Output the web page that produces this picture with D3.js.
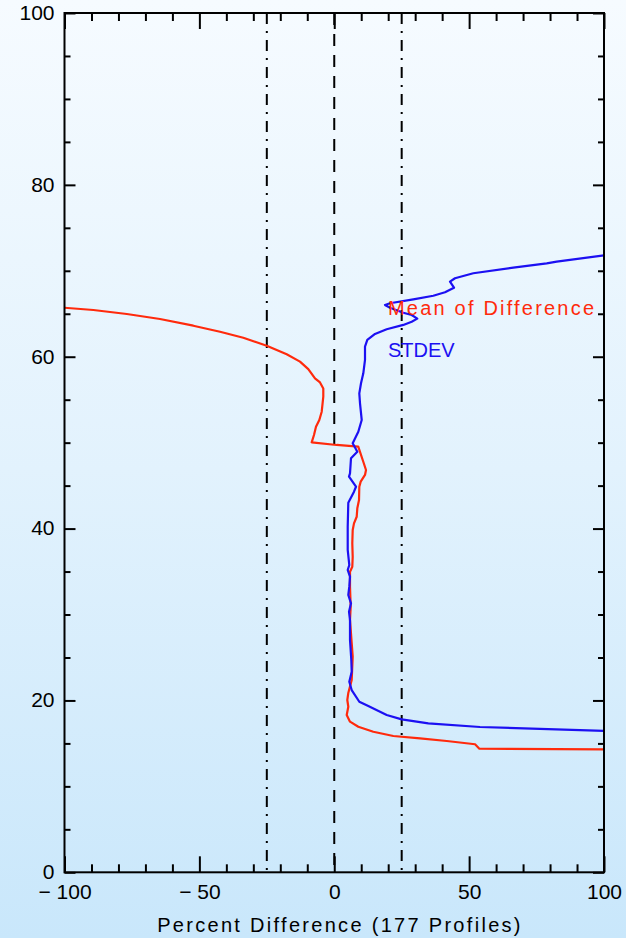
<!DOCTYPE html>
<html>
<head>
<meta charset="utf-8">
<script src="https://cdn.jsdelivr.net/npm/d3@7"></script>
<style>
  html, body { margin: 0; padding: 0; }
  body { width: 626px; height: 938px; overflow: hidden; }
  svg { display: block; font-family: "Liberation Sans", Arial, Helvetica, sans-serif; }
</style>
</head>
<body>
<svg id="chart" width="626" height="938"></svg>
<script>
// Percent difference profiles: [percent, altitude]
const meanOfDifference = [
  [-100, 65.7], [-89.3, 65.44], [-76.9, 64.97], [-64.6, 64.39], [-52.25, 63.61],
  [-42.35, 62.91], [-33.72, 62.21], [-25.04, 61.28], [-17.63, 60.28], [-12.7, 59.43],
  [-9.62, 58.56], [-7.14, 57.48], [-5.28, 57.01], [-4.06, 56.31], [-4.06, 55.35],
  [-4.65, 53.6], [-5.54, 52.64], [-6.77, 51.86], [-7.51, 50.89], [-8.36, 50.04],
  [0.91, 49.73], [8.9, 49.53], [10.77, 47.78],
  [11.77, 46.82], [11.4, 46.24], [9.8, 45.46], [9.29, 44.87], [9.18, 43.33],
  [8.55, 42.36], [8.32, 41.38], [7.32, 40.61], [6.84, 39.83], [6.69, 38.29],
  [6.84, 36.73], [6.69, 35.56], [5.84, 34.98], [5.84, 33.24], [6.1, 30.91],
  [5.84, 29.36], [6.47, 26.68], [6.84, 25.09], [6.47, 22.38], [5.21, 20.87],
  [4.84, 20.05], [5.21, 19.27], [4.62, 18.31], [5.84, 17.53], [8.92, 16.94],
  [14.48, 16.36], [21.9, 15.86], [31.8, 15.59], [41.7, 15.28], [52.2, 14.9],
  [53.8, 14.38], [100, 14.31]
];
const stdev = [
  [100, 71.8], [82.47, 71.06], [78.76, 70.87], [66.38, 70.36], [51.55, 69.71],
  [44.76, 69.13], [42.91, 68.73], [44.39, 68.03], [41.06, 67.5], [36.72, 67.1],
  [29.3, 66.68], [20.67, 66.22], [18.81, 66.02], [20.67, 65.71], [25.6, 65.12],
  [28.71, 64.86], [30.79, 64.43], [28.71, 64.08], [25.6, 63.7], [19.44, 63.19],
  [15.11, 62.65], [12.25, 61.95], [11.4, 61.17], [11.4, 59.62], [10.77, 58.07],
  [9.92, 56.91], [9.29, 55.74], [9.55, 54.58], [10.18, 52.64], [8.92, 51.27],
  [6.84, 49.92], [8.55, 48.95], [6.21, 48.18], [5.84, 46.43], [5.47, 46.04],
  [8.06, 44.87], [7.32, 44.29], [5.21, 43.01], [4.99, 40.22], [4.99, 37.51],
  [5.58, 35.76], [4.99, 35.18], [5.84, 34.4], [5.58, 33.24], [5.21, 32.27],
  [6.21, 31.3], [5.47, 30.33], [5.84, 29.36], [5.84, 27.03], [6.32, 24.71],
  [6.47, 23.34], [5.58, 22.18], [6.47, 21.21], [9.29, 19.85], [12.62, 19.35],
  [19.44, 18.31], [25.0, 17.8], [34.87, 17.34], [54.03, 16.91], [100, 16.45]
];
const referenceLines = [-25, 25];   // dash-dot bounds
const zeroLine = [0];               // dashed centre line
const xMajorTicks = [-100, -50, 0, 50, 100];
const xMinorTicks = d3.range(-90, 100, 10).filter(v => v % 50 !== 0);
const yMajorTicks = [0, 20, 40, 60, 80, 100];
const yMinorTicks = d3.range(5, 100, 5).filter(v => v % 20 !== 0);
const seriesLabels = ["Mean of Difference", "STDEV"];

const svg = d3.select("#chart");
const W = 626, H = 938;
const plot = { left: 64.5, right: 604, top: 13, bottom: 872.3 };

// page background: pale sky gradient
const defs = svg.append("defs");
const grad = defs.append("linearGradient").attr("id", "bg")
  .attr("x1", 0).attr("y1", 0).attr("x2", 0).attr("y2", 1);
grad.append("stop").attr("offset", "0%").attr("stop-color", "#f6fbff");
grad.append("stop").attr("offset", "50%").attr("stop-color", "#e2f2fd");
grad.append("stop").attr("offset", "100%").attr("stop-color", "#c9e7fb");
svg.append("rect").attr("width", W).attr("height", H).attr("fill", "url(#bg)");

defs.append("clipPath").attr("id", "plotClip").append("rect")
  .attr("x", plot.left).attr("y", plot.top)
  .attr("width", plot.right - plot.left).attr("height", plot.bottom - plot.top);

const x = d3.scaleLinear().domain([-100, 100]).range([plot.left, plot.right]);
const y = d3.scaleLinear().domain([0, 100]).range([plot.bottom, plot.top]);

// vertical reference lines
const vlines = svg.append("g").attr("stroke", "#000").attr("stroke-width", 2);
vlines.selectAll("line.dd").data(referenceLines).join("line")
  .attr("class", "dd")
  .attr("x1", d => x(d)).attr("x2", d => x(d))
  .attr("y1", y(100)).attr("y2", y(0))
  .attr("stroke-dasharray", "11,7,2,7");
vlines.selectAll("line.dz").data(zeroLine).join("line")
  .attr("class", "dz")
  .attr("x1", d => x(d)).attr("x2", d => x(d))
  .attr("y1", y(100)).attr("y2", y(0))
  .attr("stroke-dasharray", "12,9");

// profile curves
const line = d3.line().x(d => x(d[0])).y(d => y(d[1]));
const curves = svg.append("g").attr("clip-path", "url(#plotClip)")
  .attr("fill", "none").attr("stroke-width", 2.2).attr("stroke-linejoin", "round");
curves.append("path").datum(meanOfDifference).attr("d", line).attr("stroke", "#ff2a0c");
curves.append("path").datum(stdev).attr("d", line).attr("stroke", "#1c10f2");

// axes
function styleAxis(g) {
  g.select(".domain").remove();
  g.selectAll(".tick line").attr("stroke", "#000").attr("stroke-width", 2);
  g.selectAll(".tick text").attr("fill", "#000").attr("font-size", 21);
}
const fmt = d => (d < 0 ? "\u2212 " : "") + Math.abs(d);

svg.append("g").attr("transform", `translate(0,${plot.bottom})`)
  .call(d3.axisBottom(x).tickValues(xMajorTicks).tickSize(-16).tickPadding(12).tickFormat(fmt))
  .call(styleAxis);
svg.append("g").attr("transform", `translate(0,${plot.bottom})`)
  .call(d3.axisBottom(x).tickValues(xMinorTicks).tickSize(-8).tickFormat(""))
  .call(styleAxis);
svg.append("g").attr("transform", `translate(0,${plot.top})`)
  .call(d3.axisTop(x).tickValues(xMajorTicks).tickSize(-16).tickFormat(""))
  .call(styleAxis);
svg.append("g").attr("transform", `translate(0,${plot.top})`)
  .call(d3.axisTop(x).tickValues(xMinorTicks).tickSize(-8).tickFormat(""))
  .call(styleAxis);

svg.append("g").attr("transform", `translate(${plot.left},0)`)
  .call(d3.axisLeft(y).tickValues(yMajorTicks).tickSize(-11).tickPadding(10).tickFormat(d3.format("d")))
  .call(styleAxis)
  .call(g => g.selectAll(".tick text").attr("dy", "0.3em"));
svg.append("g").attr("transform", `translate(${plot.left},0)`)
  .call(d3.axisLeft(y).tickValues(yMinorTicks).tickSize(-6).tickFormat(""))
  .call(styleAxis);
svg.append("g").attr("transform", `translate(${plot.right},0)`)
  .call(d3.axisRight(y).tickValues(yMajorTicks).tickSize(-11).tickFormat(""))
  .call(styleAxis);
svg.append("g").attr("transform", `translate(${plot.right},0)`)
  .call(d3.axisRight(y).tickValues(yMinorTicks).tickSize(-6).tickFormat(""))
  .call(styleAxis);

// plot frame
svg.append("rect")
  .attr("x", plot.left).attr("y", plot.top)
  .attr("width", plot.right - plot.left).attr("height", plot.bottom - plot.top)
  .attr("fill", "none").attr("stroke", "#000").attr("stroke-width", 2);

// axis title
svg.append("text")
  .attr("x", 340).attr("y", 932)
  .attr("text-anchor", "middle").attr("font-size", 20)
  .attr("letter-spacing", 2.3).attr("fill", "#000")
  .text("Percent Difference (177 Profiles)");

// series labels
svg.append("text").attr("x", 388).attr("y", 315)
  .attr("font-size", 20).attr("letter-spacing", 2.2).attr("fill", "#ff2a0c")
  .text(seriesLabels[0]);
svg.append("text").attr("x", 388).attr("y", 357)
  .attr("font-size", 20).attr("letter-spacing", 0).attr("fill", "#1c10f2")
  .text(seriesLabels[1]);
</script>
</body>
</html>
